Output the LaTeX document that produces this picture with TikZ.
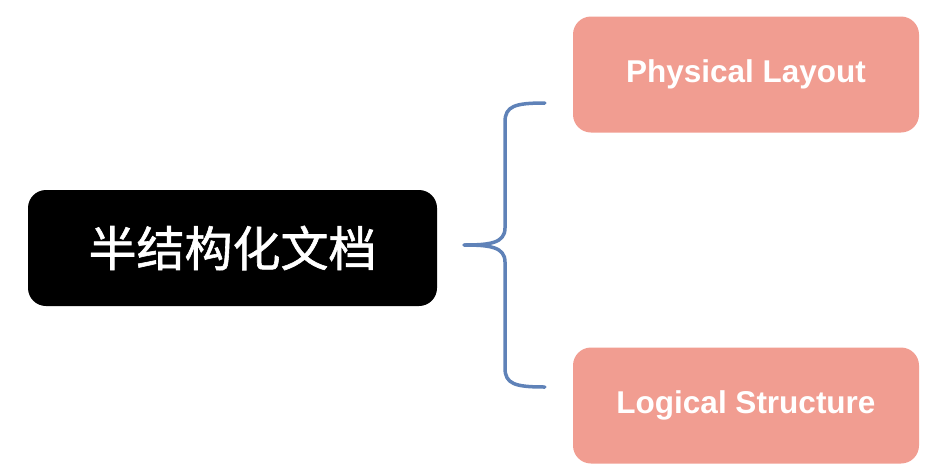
\documentclass[tikz,border=0pt]{standalone}
\usepackage{fontspec}
\setmainfont{Liberation Sans}
\newfontfamily\cjk[FakeBold=1.2]{Noto Sans CJK SC}
\usetikzlibrary{positioning}
\definecolor{boxpink}{HTML}{F19D91}
\definecolor{braceblue}{HTML}{5F82B8}
\begin{document}
\begin{tikzpicture}[x=1pt, y=-1pt,
    rootbox/.style={fill=black, rounded corners=18pt, minimum width=409pt, minimum height=116pt,
      text=white, font=\cjk\fontsize{48}{52}\selectfont},
    leafbox/.style={fill=boxpink, rounded corners=18pt, minimum width=346pt, minimum height=116pt,
      text=white, font=\bfseries\fontsize{31.5}{35}\selectfont},
    bracket/.style={draw=braceblue, line width=3.5pt, line cap=round}]
    % Fix the size of the page
    \useasboundingbox (0,0) rectangle (950,475);

    % The boxes
    \node[rootbox] (doc) at (232.5,248) {半结构化文档};
    \node[leafbox] (layout) at (746,74.5) {Physical Layout};
    \node[leafbox] (structure) at (746,405.5) {Logical Structure};

    % The brace between them
    \coordinate (tip) at ([xshift=27pt, yshift=3pt] doc.east);
    \coordinate (top) at ([xshift=-28pt, yshift=-28.5pt] layout.west);
    \coordinate (bottom) at ([xshift=-28pt, yshift=18.5pt] structure.west);
    \draw[bracket] (top) .. controls (515,103) and (505,106) .. (505,122)
      -- (505,228) .. controls (505,243) and (490,245) .. (tip);
    \draw[bracket] (tip) .. controls (490,245) and (505,247) .. (505,262)
      -- (505,368) .. controls (505,384) and (515,387) .. (bottom);
  \end{tikzpicture}
\end{document}
